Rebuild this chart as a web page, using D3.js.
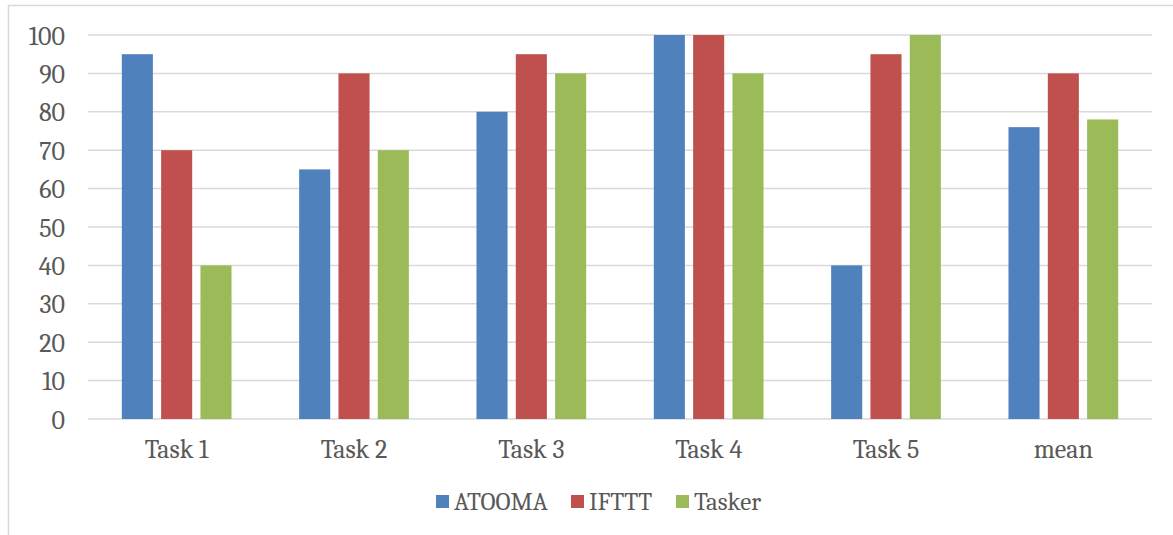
<!DOCTYPE html>
<html><head><meta charset="utf-8">
<script src="https://cdn.jsdelivr.net/npm/d3@7"></script>
<style>body{margin:0;background:#fff}svg{display:block}</style>
</head><body>
<svg id="c" width="1173" height="535"></svg>
<script>
const categories = ["Task 1","Task 2","Task 3","Task 4","Task 5","mean"];
const seriesNames = ["ATOOMA","IFTTT","Tasker"];
const atooma = [95,65,80,100,40,76];
const ifttt  = [70,90,95,100,95,90];
const tasker = [40,70,90,90,100,78];
const yTicks = [0,10,20,30,40,50,60,70,80,90,100];
const colors = ["#4F81BD","#C0504D","#9BBB59"];
const values = [atooma, ifttt, tasker];

const svg = d3.select("#c");
const font = "Cambria, 'Liberation Serif', serif";
const fs = 25, fsAxis = 26;
const textCol = "#595959";

// outer frame
svg.append("rect").attr("x",8.5).attr("y",5.5).attr("width",1200).attr("height",600)
  .attr("fill","none").attr("stroke","#D9D9D9").attr("stroke-width",1.5);

const L=88, R=1152, T=35, B=419;
const x = d3.scaleBand().domain(categories).range([L,R]).padding(0);
const xs = d3.scaleBand().domain(seriesNames).range([0,x.bandwidth()]).paddingInner(0.21).paddingOuter(0.86);
const y = d3.scaleLinear().domain([0,100]).range([B,T]);

// grid
svg.append("g").selectAll("line").data(yTicks).join("line")
  .attr("x1",L).attr("x2",R).attr("y1",d=>y(d)).attr("y2",d=>y(d))
  .attr("stroke","#D9D9D9").attr("stroke-width",1.5);

// y labels
const yAxis = d3.axisLeft(y).tickValues(yTicks).tickSize(0).tickPadding(0);
const gy = svg.append("g").attr("transform","translate(65,0)").call(yAxis);
gy.select(".domain").remove();
gy.selectAll("text").attr("font-family",font).attr("font-size",fsAxis).attr("fill",textCol).attr("dy","0.35em");

// bars
seriesNames.forEach((s,si)=>{
  svg.append("g").selectAll("rect").data(categories).join("rect")
    .attr("x",c=>x(c)+xs(s)).attr("width",xs.bandwidth())
    .attr("y",(c,i)=>y(values[si][i])).attr("height",(c,i)=>y(0)-y(values[si][i]))
    .attr("fill",colors[si]);
});

// x labels
const xAxis = d3.axisBottom(x).tickSize(0).tickPadding(0);
const gx = svg.append("g").attr("transform",`translate(0,${B+30})`).call(xAxis);
gx.select(".domain").remove();
gx.selectAll("text").attr("font-family",font).attr("font-size",fsAxis).attr("fill",textCol).attr("dy","0.35em");

// legend
const legX = [436,571,676];
const lg = svg.append("g");
seriesNames.forEach((s,i)=>{
  lg.append("rect").attr("x",legX[i]).attr("y",495).attr("width",13).attr("height",13).attr("fill",colors[i]);
  lg.append("text").attr("x",legX[i]+18).attr("y",501.5).attr("dy","0.35em")
    .attr("font-family",font).attr("font-size",fs).attr("fill",textCol).text(s);
});
</script>
</body></html>
